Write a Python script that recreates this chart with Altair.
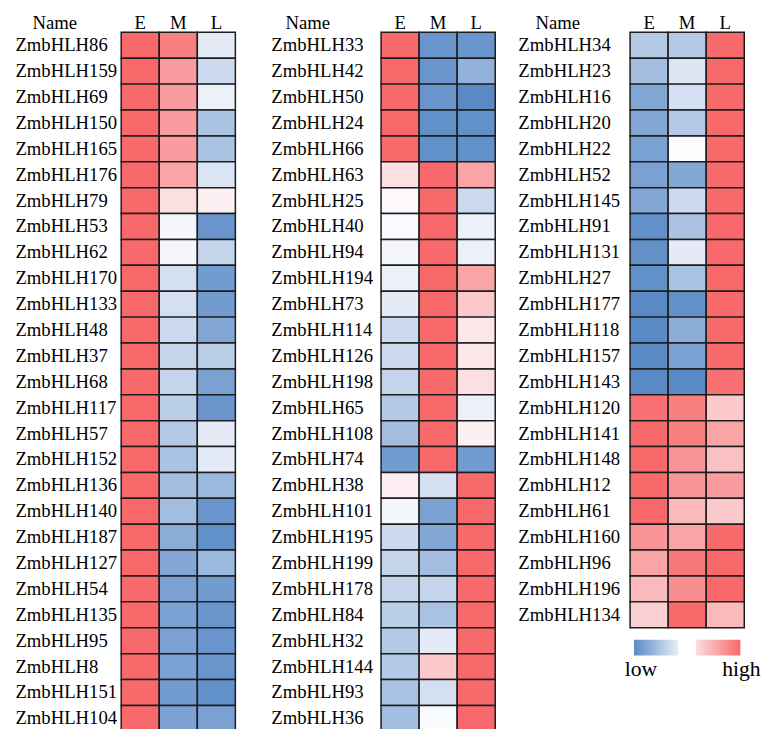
import altair as alt
import pandas as pd

stages = ["E", "M", "L"]

genes1 = ["ZmbHLH86", "ZmbHLH159", "ZmbHLH69", "ZmbHLH150", "ZmbHLH165", "ZmbHLH176",
          "ZmbHLH79", "ZmbHLH53", "ZmbHLH62", "ZmbHLH170", "ZmbHLH133", "ZmbHLH48",
          "ZmbHLH37", "ZmbHLH68", "ZmbHLH117", "ZmbHLH57", "ZmbHLH152", "ZmbHLH136",
          "ZmbHLH140", "ZmbHLH187", "ZmbHLH127", "ZmbHLH54", "ZmbHLH135", "ZmbHLH95",
          "ZmbHLH8", "ZmbHLH151", "ZmbHLH104"]
E1 = [1.0] * 27
M1 = [0.85, 0.65, 0.65, 0.65, 0.65, 0.6, 0.2, -0.05, -0.05, -0.25, -0.25, -0.3,
      -0.35, -0.35, -0.4, -0.45, -0.5, -0.55, -0.55, -0.7, -0.75, -0.8, -0.8, -0.8,
      -0.8, -0.85, -0.8]
L1 = [-0.15, -0.3, -0.1, -0.5, -0.5, -0.2, 0.08, -0.9, -0.35, -0.85, -0.85, -0.75,
      -0.4, -0.8, -0.9, -0.15, -0.15, -0.6, -0.9, -0.95, -0.6, -0.85, -0.9, -0.9,
      -0.9, -0.95, -0.8]

genes2 = ["ZmbHLH33", "ZmbHLH42", "ZmbHLH50", "ZmbHLH24", "ZmbHLH66", "ZmbHLH63",
          "ZmbHLH25", "ZmbHLH40", "ZmbHLH94", "ZmbHLH194", "ZmbHLH73", "ZmbHLH114",
          "ZmbHLH126", "ZmbHLH198", "ZmbHLH65", "ZmbHLH108", "ZmbHLH74", "ZmbHLH38",
          "ZmbHLH101", "ZmbHLH195", "ZmbHLH199", "ZmbHLH178", "ZmbHLH84", "ZmbHLH32",
          "ZmbHLH144", "ZmbHLH93", "ZmbHLH36"]
E2 = [1.0, 1.0, 1.0, 1.0, 1.0, 0.2, 0.03, -0.02, -0.05, -0.1, -0.15, -0.3,
      -0.3, -0.35, -0.45, -0.55, -0.85, 0.1, -0.05, -0.3, -0.35, -0.35, -0.4, -0.45,
      -0.45, -0.5, -0.55]
M2 = [-0.9, -0.9, -0.9, -0.95, -0.95, 1.0, 1.0, 1.0, 1.0, 1.0, 1.0, 1.0,
      1.0, 1.0, 1.0, 1.0, 1.0, -0.25, -0.8, -0.75, -0.55, -0.35, -0.5, -0.15,
      0.35, -0.25, -0.02]
L2 = [-0.9, -0.65, -1.0, -0.95, -0.95, 0.6, -0.3, -0.1, -0.1, 0.6, 0.35, 0.15,
      0.15, 0.2, -0.1, 0.08, -0.85, 1.0, 1.0, 1.0, 1.0, 1.0, 1.0, 1.0,
      1.0, 1.0, 1.0]

genes3 = ["ZmbHLH34", "ZmbHLH23", "ZmbHLH16", "ZmbHLH20", "ZmbHLH22", "ZmbHLH52",
          "ZmbHLH145", "ZmbHLH91", "ZmbHLH131", "ZmbHLH27", "ZmbHLH177", "ZmbHLH118",
          "ZmbHLH157", "ZmbHLH143", "ZmbHLH120", "ZmbHLH141", "ZmbHLH148", "ZmbHLH12",
          "ZmbHLH61", "ZmbHLH160", "ZmbHLH96", "ZmbHLH196", "ZmbHLH134"]
E3 = [-0.45, -0.55, -0.75, -0.75, -0.8, -0.8, -0.75, -0.95, -0.95, -0.95, -1.0, -1.0,
      -1.0, -1.0, 0.95, 1.0, 1.0, 1.0, 1.0, 0.7, 0.6, 0.45, 0.3]
M3 = [-0.45, -0.2, -0.25, -0.45, 0.0, -0.75, -0.3, -0.5, -0.15, -0.5, -0.95, -0.7,
      -0.8, -1.0, 0.85, 0.85, 0.7, 0.7, 0.45, 0.6, 0.9, 0.75, 1.0]
L3 = [1.0, 1.0, 1.0, 1.0, 1.0, 1.0, 1.0, 1.0, 1.0, 1.0, 1.0, 1.0,
      1.0, 0.95, 0.35, 0.6, 0.4, 0.65, 0.35, 1.0, 1.0, 1.0, 0.45]

legend_labels = ["low", "high"]

BLUE, WHITE, RED = "#5A8AC6", "#FCFCFF", "#F8696B"
FONT = "Liberation Serif, Times New Roman, serif"
STEP = 26.3
W = 116


def panel(genes, e, m, l, label_pad, name_x):
    n = len(genes)
    df = pd.DataFrame({
        "gene": genes * 3,
        "stage": ["E"] * n + ["M"] * n + ["L"] * n,
        "value": e + m + l,
    })
    return alt.Chart(df).mark_rect(stroke="#1c1c1c", strokeWidth=1.5).encode(
        x=alt.X("stage:N", sort=stages,
                scale=alt.Scale(paddingInner=0, paddingOuter=0),
                axis=alt.Axis(orient="top", title=None, ticks=False, tickSize=0,
                              domain=False, labelAngle=0, labelPadding=0,
                              labelFont=FONT, labelFontSize=19, labelColor="black")),
        y=alt.Y("gene:N", sort=genes,
                scale=alt.Scale(paddingInner=0, paddingOuter=0),
                axis=alt.Axis(title="Name", titleAngle=0, titleX=name_x, titleY=-4,
                              titleAlign="center", titleBaseline="alphabetic",
                              titleFont=FONT, titleFontSize=19, titleFontWeight="normal",
                              titleColor="black", labelAlign="left",
                              labelPadding=label_pad, ticks=False, tickSize=0,
                              domain=False, labelFont=FONT, labelFontSize=19,
                              labelColor="black", labelBaseline="middle",
                              labelLimit=300)),
        color=alt.Color("value:Q",
                        scale=alt.Scale(domain=[-1, 0, 1], range=[BLUE, WHITE, RED],
                                        interpolate="rgb"),
                        legend=None),
    ).properties(width=W, height=STEP * n)


p1 = panel(genes1, E1, M1, L1, 108, -68)
p2 = panel(genes2, E2, M2, L2, 112, -75)
p3 = panel(genes3, E3, M3, L3, 114, -74)

leg_df = pd.DataFrame({"k": legend_labels})
leg_x = alt.X("k:N", sort=legend_labels,
              scale=alt.Scale(paddingInner=0.286, paddingOuter=0.063),
              axis=alt.Axis(orient="bottom", title=None, ticks=False, tickSize=0,
                            domain=False, labelAngle=0, labelPadding=20,
                            labelBaseline="alphabetic",
                            labelAlign=alt.expr("datum.value == 'low' ? 'right' : 'left'"),
                            labelOffset=alt.expr("datum.value == 'low' ? 1 : 4"),
                            labelFont=FONT, labelFontSize=22, labelColor="black"))
blue_bar = alt.Chart(leg_df).transform_filter("datum.k == 'low'").mark_rect(
    fill=alt.LinearGradient(gradient="linear", x1=0, x2=1, y1=0, y2=0,
                            stops=[alt.GradientStop(color=BLUE, offset=0),
                                   alt.GradientStop(color="#E8EEF8", offset=1)])
).encode(x=leg_x)
red_bar = alt.Chart(leg_df).transform_filter("datum.k == 'high'").mark_rect(
    fill=alt.LinearGradient(gradient="linear", x1=0, x2=1, y1=0, y2=0,
                            stops=[alt.GradientStop(color="#FCDCDD", offset=0),
                                   alt.GradientStop(color=RED, offset=1)])
).encode(x=leg_x)
legend = alt.layer(blue_bar, red_bar).properties(width=W, height=16)

col3 = alt.vconcat(p3, legend, spacing=12, bounds="flush")
left = alt.hconcat(p1, p2, spacing=35)
chart = alt.hconcat(left, col3, spacing=22).properties(
    padding={"left": 7, "top": 0, "right": 0, "bottom": -9}
).configure_view(stroke=None)

chart.save("out.html", embed_options={"renderer": "svg", "actions": False})
